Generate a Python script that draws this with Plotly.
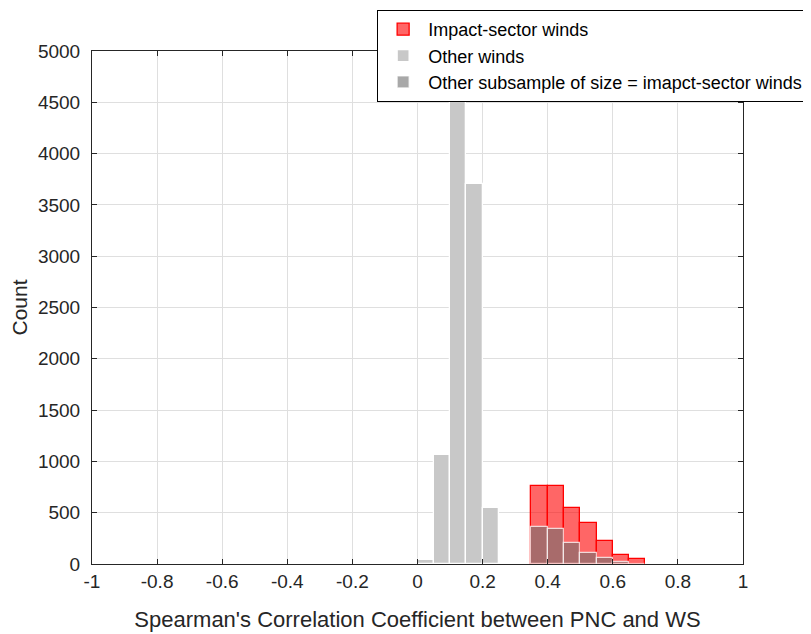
import plotly.graph_objects as go

# Histogram bins (width 0.05)
bin_width = 0.05
other_centers = [-0.375, 0.025, 0.075, 0.125, 0.175, 0.225]
other_counts = [12, 35, 1062, 4610, 3704, 543]

impact_centers = [0.375, 0.425, 0.475, 0.525, 0.575, 0.625, 0.675]
impact_counts = [760, 760, 543, 397, 224, 88, 46]

subsample_centers = [0.375, 0.425, 0.475, 0.525, 0.575, 0.625, 0.675]
subsample_counts = [364, 338, 202, 110, 56, 17, 2]

x_ticks = [-1, -0.8, -0.6, -0.4, -0.2, 0, 0.2, 0.4, 0.6, 0.8, 1]
x_tick_labels = ["-1", "-0.8", "-0.6", "-0.4", "-0.2", "0", "0.2", "0.4", "0.6", "0.8", "1"]
y_ticks = [0, 500, 1000, 1500, 2000, 2500, 3000, 3500, 4000, 4500, 5000]

FONT = "Liberation Sans, Arial, Helvetica, sans-serif"
TXT = "rgb(38,38,38)"

fig = go.Figure()
fig.add_trace(go.Bar(
    x=impact_centers, y=impact_counts, width=[bin_width] * len(impact_centers),
    name="Impact-sector winds",
    marker=dict(color="rgba(255,0,0,0.6)", line=dict(color="rgb(255,0,0)", width=1.3)),
))
fig.add_trace(go.Bar(
    x=other_centers, y=other_counts, width=[bin_width] * len(other_centers),
    name="Other winds",
    marker=dict(color="rgb(200,200,200)", line=dict(color="white", width=1.3)),
))
fig.add_trace(go.Bar(
    x=subsample_centers, y=subsample_counts, width=[bin_width] * len(subsample_centers),
    name="Other subsample of size = imapct-sector winds",
    marker=dict(color="rgba(110,110,110,0.6)", line=dict(color="rgba(255,255,255,0.75)", width=1.3)),
))

axis_common = dict(
    showline=True, linecolor=TXT, linewidth=1, mirror="ticks",
    ticks="inside", ticklen=5, tickcolor=TXT, tickwidth=1,
    showgrid=True, gridcolor="rgb(223,223,223)", gridwidth=1,
    zeroline=False, automargin=False,
    tickfont=dict(family=FONT, size=19, color=TXT),
)

fig.update_layout(
    width=811, height=634,
    margin=dict(l=84, r=76, t=43, b=78, autoexpand=False),
    barmode="overlay", bargap=0,
    plot_bgcolor="white", paper_bgcolor="white",
    font=dict(family=FONT, color=TXT),
    xaxis=dict(
        range=[-1, 1], tickvals=x_ticks, ticktext=x_tick_labels,
        title=dict(text="Spearman's Correlation Coefficient between PNC and WS",
                   font=dict(family=FONT, size=22, color=TXT), standoff=20),
        **axis_common,
    ),
    yaxis=dict(
        range=[0, 5000], tickvals=y_ticks, ticklabelstandoff=7,
        title=dict(text="Count", font=dict(family=FONT, size=21, color=TXT), standoff=8),
        **axis_common,
    ),
    legend=dict(
        x=0.438, y=1.08, xanchor="left", yanchor="top",
        bgcolor="white", bordercolor="black", borderwidth=1,
        font=dict(family=FONT, size=18, color="black"),
        tracegroupgap=0, itemwidth=40,
    ),
)

fig.write_html("out.html")
